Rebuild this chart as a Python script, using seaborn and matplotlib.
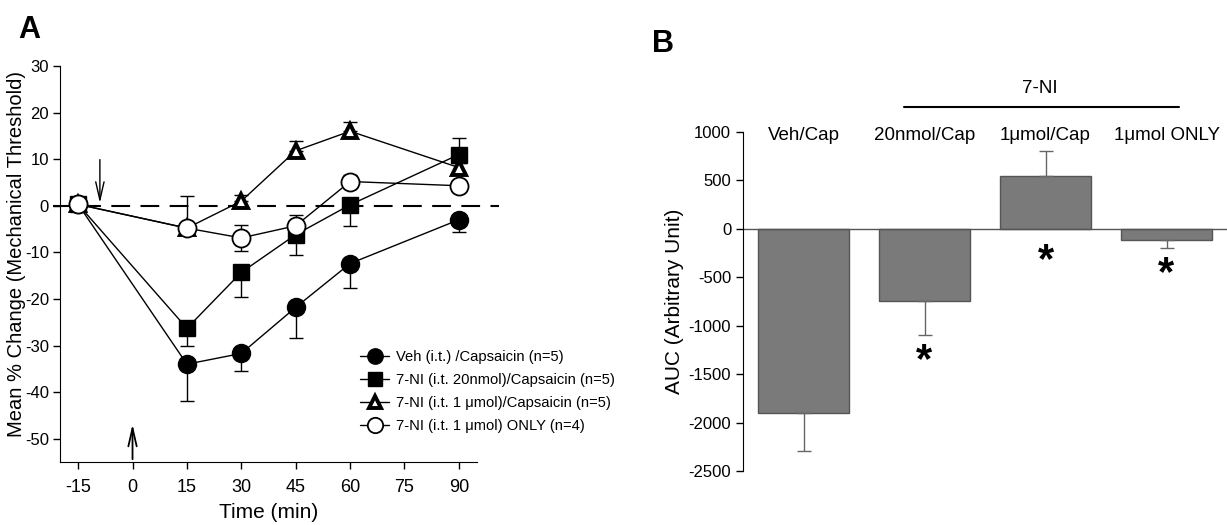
import numpy as np
import pandas as pd
import matplotlib
matplotlib.use("Agg")
import matplotlib.pyplot as plt
import seaborn as sns

# Panel A: time course of mechanical threshold change
time_min = [-15, 15, 30, 45, 60, 90]
veh_mean = [0.3, -34.0, -31.7, -21.8, -12.4, -3.0]
veh_err_lo = [0, 8.0, 3.8, 6.6, 5.2, 2.7]
veh_err_hi = [0, 0, 0, 0, 0, 0]
ni20_mean = [0.3, -26.3, -14.3, -6.2, 0.2, 11.0]
ni20_err_lo = [0, 3.7, 5.2, 4.4, 4.6, 0]
ni20_err_hi = [0, 0, 0, 0, 0, 3.5]
ni1_mean = [0.3, -4.8, 1.0, 11.8, 16.0, 8.2]
ni1_err_lo = [0, 0, 0, 0, 0, 1.0]
ni1_err_hi = [0, 7.0, 1.4, 2.0, 2.0, 1.0]
only_mean = [0.3, -4.8, -6.9, -4.3, 5.2, 4.3]
only_err_lo = [0, 1.0, 2.8, 2.4, 1.4, 1.3]
only_err_hi = [0, 1.0, 2.8, 2.4, 1.4, 1.3]

series_labels = ["Veh (i.t.) /Capsaicin (n=5)",
                 "7-NI (i.t. 20nmol)/Capsaicin (n=5)",
                 "7-NI (i.t. 1 \u03bcmol)/Capsaicin (n=5)",
                 "7-NI (i.t. 1 \u03bcmol) ONLY (n=4)"]

# Panel B: AUC
auc_groups = ["Veh/Cap", "20nmol/Cap", "1\u03bcmol/Cap", "1\u03bcmol ONLY"]
auc_mean = [-1900, -740, 545, -115]
auc_err = [390, 355, 260, 80]
auc_sig = [False, True, True, True]

sns.set_style("ticks")
plt.rcParams["font.family"] = ["Liberation Sans", "DejaVu Sans"]
plt.rcParams["axes.unicode_minus"] = False
for k in ["text.color", "axes.labelcolor", "xtick.color", "ytick.color", "axes.edgecolor"]:
    plt.rcParams[k] = "black"

fig = plt.figure(figsize=(12.27, 5.25), dpi=100)
axA = fig.add_axes([60 / 1227, 1 - 462 / 525, 417 / 1227, 396 / 525])
axB = fig.add_axes([743 / 1227, 1 - 471 / 525, 484 / 1227, 339 / 525])

# ---------- panel A ----------
styles = [
    dict(marker="o", mfc="black", ms=13, mew=1),
    dict(marker="s", mfc="black", ms=12, mew=1),
    dict(marker="^", mfc="white", ms=10, mew=2.8),
    dict(marker="o", mfc="white", ms=13, mew=1.3),
]
all_means = [veh_mean, ni20_mean, ni1_mean, only_mean]
all_lo = [veh_err_lo, ni20_err_lo, ni1_err_lo, only_err_lo]
all_hi = [veh_err_hi, ni20_err_hi, ni1_err_hi, only_err_hi]

axA.plot([-22, 101], [0, 0], color="black", lw=1.5, ls=(0, (9, 5)),
         clip_on=False, zorder=1)

for mean, lo, hi, lab, st in zip(all_means, all_lo, all_hi, series_labels, styles):
    axA.errorbar(time_min, mean, yerr=[lo, hi], fmt="none", ecolor="black",
                 elinewidth=1, capsize=5, capthick=1, zorder=2)
    df = pd.DataFrame({"time": time_min, "value": mean})
    sns.lineplot(data=df, x="time", y="value", ax=axA, color="black", lw=1,
                 marker=st["marker"], markersize=st["ms"],
                 markerfacecolor=st["mfc"], markeredgecolor="black",
                 markeredgewidth=st["mew"], label=lab, zorder=3)

axA.set_xlim(-20, 95)
axA.set_ylim(-55, 30)
axA.set_xticks(np.arange(-15, 91, 15))
axA.set_yticks(np.arange(-50, 31, 10))
axA.tick_params(axis="x", labelsize=13, length=5, width=1, pad=7)
axA.tick_params(axis="y", labelsize=12, length=5, width=1, pad=3)
axA.set_xlabel("Time (min)", fontsize=15, labelpad=5)
axA.set_ylabel("Mean % Change (Mechanical Threshold)", fontsize=14.5)
axA.yaxis.set_label_coords(-0.082, 0.525)
for s in ["top", "right"]:
    axA.spines[s].set_visible(False)

axA.annotate("", xy=(-9, 0), xytext=(-9, 10.5),
             arrowprops=dict(arrowstyle="->,head_length=1.3,head_width=0.3",
                             lw=1, color="black"))
axA.annotate("", xy=(0, -46.3), xytext=(0, -55),
             arrowprops=dict(arrowstyle="->,head_length=1.3,head_width=0.3",
                             lw=1.3, color="black"), annotation_clip=False)

axA.legend(loc="upper left", bbox_to_anchor=(360 / 1227, 1 - 350 / 525),
           bbox_transform=fig.transFigure, frameon=False, fontsize=10.6,
           handlelength=2.0, handletextpad=0.45, labelspacing=0.62,
           borderpad=0, borderaxespad=0, markerscale=0.85)

fig.text(18 / 1227, 1 - 38 / 525, "A", fontsize=22, fontweight="bold")

# ---------- panel B ----------
dfB = pd.DataFrame({"group": auc_groups, "auc": auc_mean})
sns.barplot(data=dfB, x="group", y="auc", ax=axB, color="#7a7a7a",
            saturation=1, edgecolor="#555555", linewidth=1, width=0.76,
            errorbar=None)
lo = [e if m < 0 else 0 for m, e in zip(auc_mean, auc_err)]
hi = [e if m >= 0 else 0 for m, e in zip(auc_mean, auc_err)]
axB.errorbar(range(len(auc_groups)), auc_mean, yerr=[lo, hi], fmt="none",
             ecolor="#666666", elinewidth=1, capsize=5, capthick=1)
axB.axhline(0, color="#555555", lw=1)

axB.set_xlim(-0.5, 3.5)
axB.set_ylim(-2500, 1000)
axB.set_yticks(np.arange(-2500, 1001, 500))
axB.set_xticks([])
axB.set_xlabel("")
axB.set_ylabel("AUC (Arbitrary Unit)", fontsize=15, labelpad=3)
axB.tick_params(labelsize=12, length=5, width=1)
for s in ["top", "right", "bottom"]:
    axB.spines[s].set_visible(False)

for i, g in enumerate(auc_groups):
    axB.text(i, 960, g, ha="center", va="center", fontsize=13.5)

for i, (m, e, sig) in enumerate(zip(auc_mean, auc_err, auc_sig)):
    if not sig:
        continue
    ystar = (m - e if m < 0 else 0) - 270
    if m >= 0:
        ystar = -330
    axB.text(i, ystar, "*", ha="center", va="center", fontsize=30,
             fontweight="bold")

axB.plot([0.83, 3.1], [1260, 1260], color="black", lw=1.5, clip_on=False)
axB.text(1.95, 1450, "7-NI", ha="center", va="center", fontsize=13.5)

fig.text(652 / 1227, 1 - 52 / 525, "B", fontsize=22, fontweight="bold")

fig.savefig("out.png", dpi=100)
